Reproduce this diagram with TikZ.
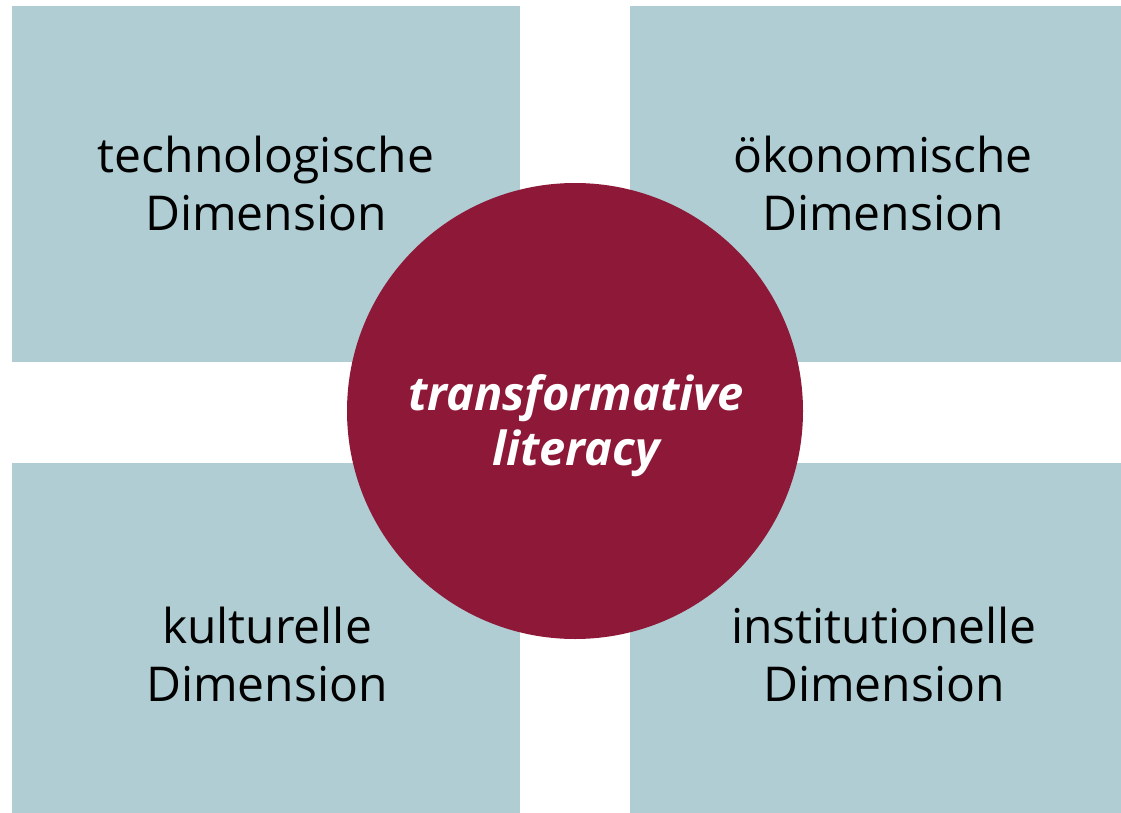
\documentclass[tikz,border=0pt]{standalone}
\usepackage{fontspec}
\setmainfont{Open Sans}
\definecolor{boxblue}{HTML}{AFCDD3}
\definecolor{wine}{HTML}{8E1838}
\begin{document}
\begin{tikzpicture}[x=1pt,y=-1pt,
  dimbox/.style={fill=boxblue,draw=none},
  dimtext/.style={font=\fontsize{48}{58}\selectfont,align=center,text=black,anchor=base},
  core/.style={circle,fill=wine,draw=none,minimum size=456pt,inner sep=0pt}]
\useasboundingbox (0,0) rectangle (1121,813);
\fill[white] (0,0) rectangle (1121,813);
\path[dimbox] (12,6) rectangle (520,362);
\path[dimbox] (630,6) rectangle (1121,362);
\path[dimbox] (12,463) rectangle (520,813);
\path[dimbox] (630,463) rectangle (1121,813);
\node[core] (c) at (575,411) {};
\node[font=\fontsize{47}{55}\selectfont\bfseries\itshape,text=white,align=center,anchor=base] (ct) at (576,465) {transformative\\literacy};
\node[dimtext] (tl) at (266,230) {technologische\\Dimension};
\node[dimtext] (tr) at (883,230) {ökonomische\\Dimension};
\node[dimtext] (bl) at (267,701) {kulturelle\\Dimension};
\node[dimtext] (br) at (884,701) {institutionelle\\Dimension};
\end{tikzpicture}
\end{document}
